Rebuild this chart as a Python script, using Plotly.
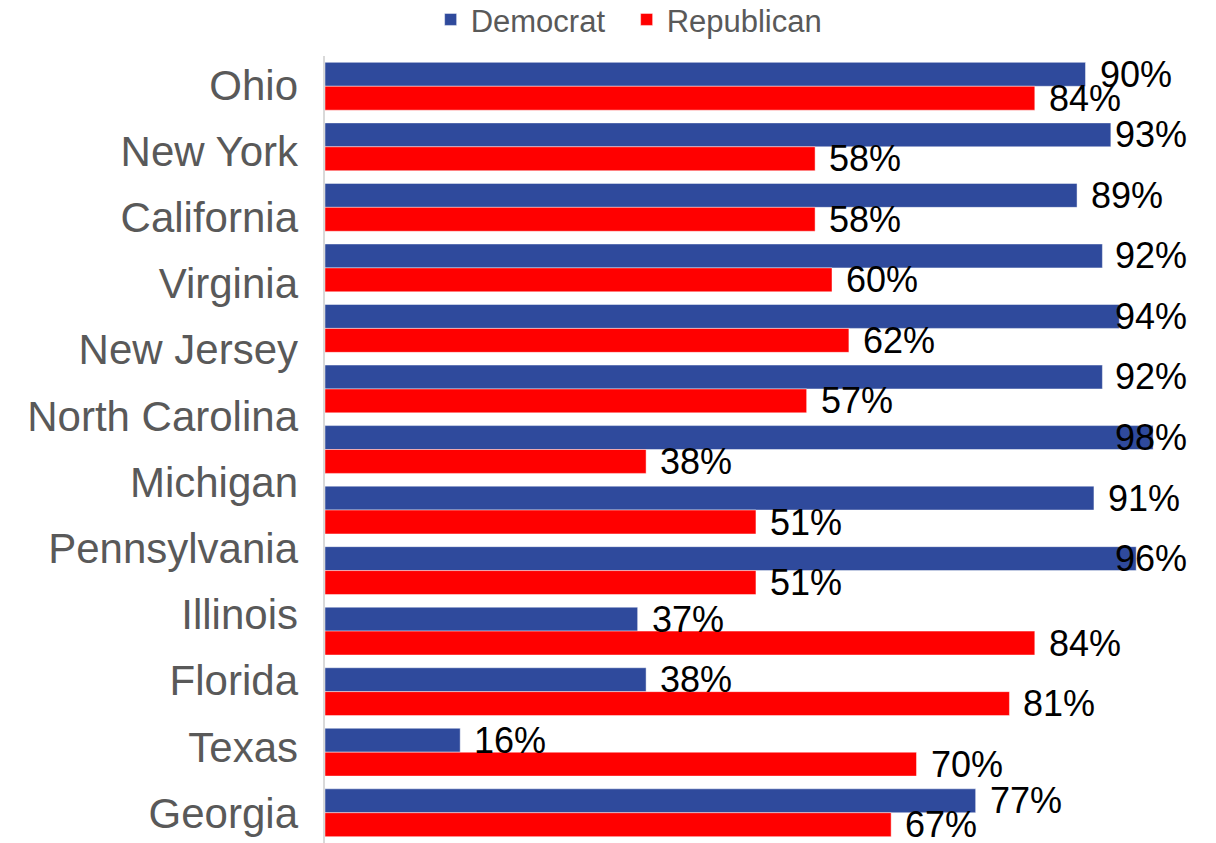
import plotly.graph_objects as go

# Tick labels shown on the left (12 labels)
state_labels = ["Ohio", "New York", "California", "Virginia", "New Jersey", "North Carolina",
                "Michigan", "Pennsylvania", "Illinois", "Florida", "Texas", "Georgia"]
# Bar groups drawn (13 groups, top to bottom)
group_index = list(range(13))
democrat = [90, 93, 89, 92, 94, 92, 98, 91, 96, 37, 38, 16, 77]
republican = [84, 58, 58, 60, 62, 57, 38, 51, 51, 84, 81, 70, 67]

BLUE = "#2F4A9C"
RED = "#FF0000"
FONT = "Liberation Sans, Arial, sans-serif"

fig = go.Figure()
fig.add_trace(go.Bar(y=group_index, x=democrat, orientation="h", name="Democrat",
                     marker=dict(color=BLUE, line=dict(color="rgba(255,255,255,0.45)", width=1)),
                     hoverinfo="x"))
fig.add_trace(go.Bar(y=group_index, x=republican, orientation="h", name="Republican",
                     marker=dict(color=RED, line=dict(color="rgba(255,255,255,0.45)", width=1)),
                     hoverinfo="x"))
# invisible trace carrying the category labels on a second y axis
fig.add_trace(go.Scatter(y=state_labels, x=[0] * len(state_labels), yaxis="y2", mode="markers",
                         marker=dict(opacity=0, size=1), showlegend=False, hoverinfo="skip"))

PX_PER_UNIT = 845 / 100.0
PAD = 12
MAX_START = 93.3
annotations = []
for i, (d, r) in enumerate(zip(democrat, republican)):
    for v, shift in ((d, 12), (r, -12)):
        start = min(v + PAD / PX_PER_UNIT, MAX_START)
        annotations.append(dict(x=start, y=i, xref="x", yref="y", text=f"{v}%",
                                xanchor="left", yanchor="middle", yshift=shift,
                                showarrow=False, font=dict(family=FONT, size=36, color="#000000")))

# the page body has an 8px default margin, so margins compensate for it
fig.update_layout(
    width=1216, height=843,
    margin=dict(l=317, r=54, t=48, b=8, autoexpand=False),
    paper_bgcolor="white", plot_bgcolor="white",
    barmode="group", bargap=0.21, bargroupgap=0,
    font=dict(family=FONT),
    legend=dict(orientation="h", x=0.125, xanchor="left", y=1.046, yanchor="middle",
                yref="paper", font=dict(family=FONT, size=31, color="#595959"),
                entrywidth=151, entrywidthmode="pixels", tracegroupgap=0),
    xaxis=dict(range=[0, 100], showgrid=False, zeroline=False, showticklabels=False,
               showline=False, fixedrange=True),
    yaxis=dict(range=[12.5, -0.5], showticklabels=False, showgrid=False, zeroline=False,
               showline=True, linecolor="#D9D9D9", linewidth=2, fixedrange=True),
    yaxis2=dict(overlaying="y", side="left", type="category", categoryarray=state_labels,
                categoryorder="array", range=[11.453, -0.438], showgrid=False, zeroline=False,
                showline=False, ticks="", ticklabelstandoff=26, automargin=False,
                tickfont=dict(family=FONT, size=42, color="#595959"), fixedrange=True),
    annotations=annotations,
)

fig.write_html("out.html")
